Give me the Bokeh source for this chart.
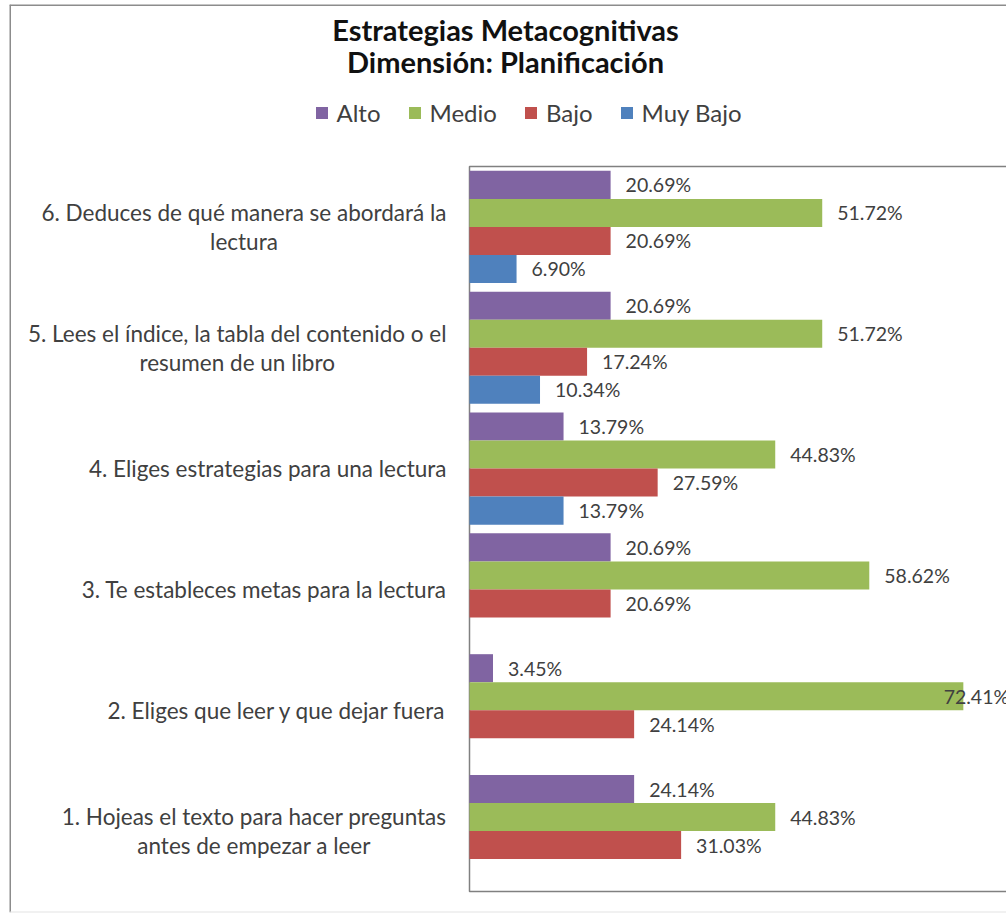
from bokeh.plotting import figure
from bokeh.models import ColumnDataSource, Range1d, Legend, LegendItem, Span
from bokeh.core.properties import value
from bokeh.embed import file_html
from bokeh.resources import INLINE

# ---------------- data ----------------
title_lines = ["Estrategias Metacognitivas", "Dimensión: Planificación"]
categories = [
    "1. Hojeas el texto para hacer preguntas\nantes de empezar a leer",
    "2. Eliges que leer y que dejar fuera",
    "3. Te estableces metas para la lectura",
    "4. Eliges estrategias para una lectura",
    "5. Lees el índice, la tabla del contenido o el\nresumen de un libro",
    "6. Deduces de qué manera se abordará la\nlectura",
]
series_names = ["Alto", "Medio", "Bajo", "Muy Bajo"]
alto = [24.14, 3.45, 20.69, 13.79, 20.69, 20.69]
medio = [44.83, 72.41, 58.62, 44.83, 51.72, 51.72]
bajo = [31.03, 24.14, 20.69, 27.59, 17.24, 20.69]
muy_bajo = [0, 0, 0, 13.79, 10.34, 6.90]
colors = ["#8064A2", "#9BBB59", "#C0504D", "#4F81BD"]
axis_max = 80  # value axis maximum (right part is cropped in the picture)

# ---------------- layout (pixels) ----------------
W, H = 1006, 914
FRAME_L, FRAME_T, FRAME_B = 9, 4, 912          # outer chart border
PLOT_L, PLOT_T, PLOT_B = 469, 166, 891          # plot-area box
n = len(categories)
PX = 6.82                                       # px per percent
PY = (PLOT_B - PLOT_T) / n                      # px per category

x_start = -(PLOT_L - FRAME_L) / PX
x_end = (W - PLOT_L) / PX
y_start = -(FRAME_B - PLOT_B) / PY
y_end = n + (PLOT_T - FRAME_T) / PY

def data_x(px):
    return (px - PLOT_L) / PX

def data_y(py):
    return n + (PLOT_T - py) / PY

FONT = "Lato"
TXT = "#404040"
AX = "#808080"

p = figure(width=W, height=H, output_backend="svg", toolbar_location=None, tools="",
           x_range=Range1d(x_start, x_end), y_range=Range1d(y_start, y_end),
           x_axis_location=None, y_axis_location=None,
           min_border_left=FRAME_L, min_border_right=0,
           min_border_top=FRAME_T, min_border_bottom=H - FRAME_B)
p.outline_line_color = None
p.grid.visible = False
p.background_fill_color = "white"
p.border_fill_color = "white"

# outer chart border (left, top, faint bottom)
p.add_layout(Span(location=x_start, dimension="height", line_color="#8c8c8c", line_width=3))
p.add_layout(Span(location=y_end, dimension="width", line_color="#8c8c8c", line_width=3))
p.add_layout(Span(location=y_start, dimension="width", line_color="#e4e4e4", line_width=2))

# plot-area box (its right side lies beyond the cropped edge)
p.quad(left=0, right=axis_max, bottom=0, top=n, fill_color=None,
       line_color=AX, line_width=1.5)

BAR_H = 0.232
offsets = [1.5 * BAR_H, 0.5 * BAR_H, -0.5 * BAR_H, -1.5 * BAR_H]
LABEL_GAP = 15
LABEL_W = 65
ypos = [i + 0.5 for i in range(n)]

items = []
for name, vals, col, off in zip(series_names, [alto, medio, bajo, muy_bajo], colors, offsets):
    src = ColumnDataSource(dict(y=[y + off for y in ypos], v=vals))
    r = p.hbar(y="y", left=0, right="v", height=BAR_H,
               fill_color=col, line_color=None, source=src)
    items.append(LegendItem(label=name, renderers=[r]))

    ys, lx, xo, al, txt = [], [], [], [], []
    for y, v in zip(ypos, vals):
        if v <= 0:
            continue
        ys.append(y + off)
        txt.append(f"{v:.2f}%")
        if v * PX + LABEL_GAP + LABEL_W > axis_max * PX:
            lx.append(axis_max); xo.append(-6); al.append("right")
        else:
            lx.append(v); xo.append(LABEL_GAP); al.append("left")
    lsrc = ColumnDataSource(dict(y=ys, x=lx, xo=xo, al=al, t=txt))
    p.text(x="x", y="y", text="t", x_offset="xo",
           text_align="al", text_baseline="middle", text_font=value(FONT),
           text_font_size="19.5px", text_color=TXT, source=lsrc)

# category labels
csrc = ColumnDataSource(dict(y=ypos, t=categories))
p.text(x=0, y="y", text="t", x_offset=-23, anchor="center_right",
       text_align="center", text_baseline="middle", text_font=value(FONT),
       text_font_size="22.5px", text_color=TXT, text_line_height=1.08, source=csrc)

# title (two centred lines)
tsrc = ColumnDataSource(dict(x=[data_x(505)] * 2, y=[data_y(28.5), data_y(60.5)], t=title_lines))
p.text(x="x", y="y", text="t", text_align="center", text_baseline="middle",
       text_font=value(FONT), text_font_style="bold", text_font_size="29px",
       text_color="#111111", source=tsrc)

legend = Legend(items=items, orientation="horizontal",
                location=(313.5 - FRAME_L, FRAME_B - 127),
                padding=0, margin=0, border_line_color=None, background_fill_alpha=0,
                glyph_width=15, glyph_height=15, label_standoff=8, spacing=26,
                label_text_font=FONT, label_text_font_size="24px", label_text_color=TXT)
p.add_layout(legend, "center")

open("out.html", "w").write(file_html(p, INLINE))
